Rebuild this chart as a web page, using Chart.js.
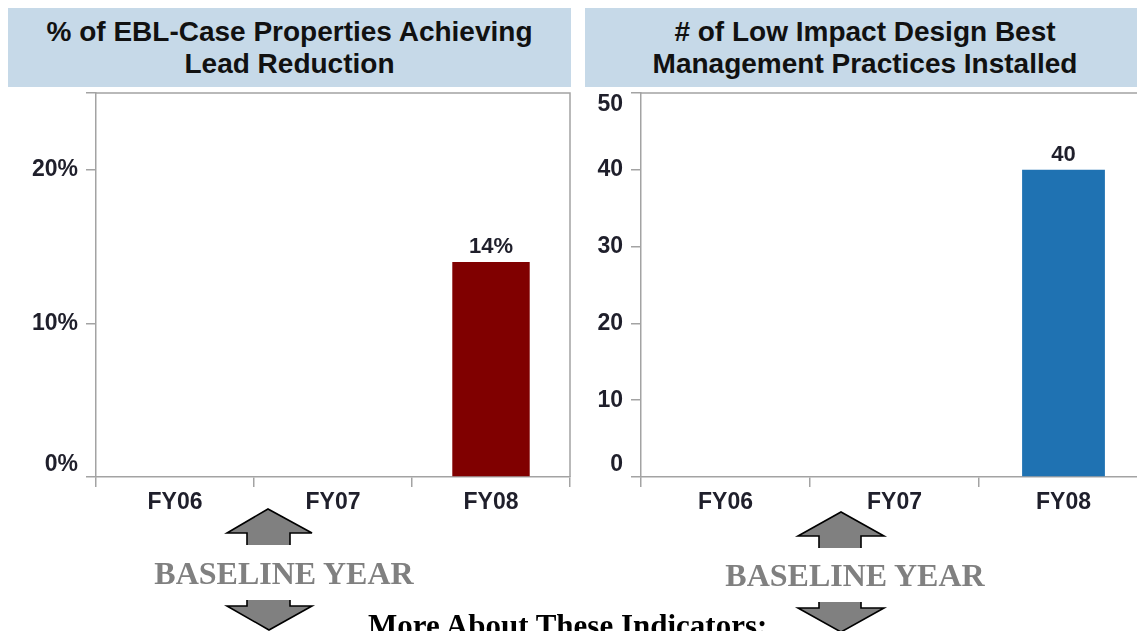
<!DOCTYPE html>
<html>
<head>
<meta charset="utf-8">
<script src="https://cdn.jsdelivr.net/npm/chart.js@4/dist/chart.umd.min.js"></script>
<style>
html,body{margin:0;padding:0;background:#fff;overflow:hidden;width:1137px;height:631px;position:relative}
.tbox{position:absolute;top:8px;height:79px;background:#c6d9e8;display:flex;align-items:center;justify-content:center;text-align:center;font-family:"Liberation Sans",Arial,sans-serif;font-weight:bold;font-size:28px;line-height:32px;color:#111;z-index:2}
.cwrap{position:absolute;top:0;height:631px;z-index:3}
.base{position:absolute;font-family:"Liberation Serif","Times New Roman",serif;font-weight:bold;font-size:32px;line-height:32px;color:#808080;white-space:nowrap;z-index:4}
.more{position:absolute;left:368px;top:610px;font-family:"Liberation Serif","Times New Roman",serif;font-weight:bold;font-size:31px;line-height:31px;color:#000;white-space:nowrap;z-index:4}
svg{position:absolute;left:0;top:0;z-index:4}
</style>
</head>
<body>
<div class="tbox" style="left:8px;width:563px">% of EBL-Case Properties Achieving<br>Lead Reduction</div>
<div class="tbox" style="left:585px;width:560px">#&nbsp;of Low Impact Design Best<br>Management Practices Installed</div>
<div class="cwrap" style="left:0;width:580px"><canvas id="c1"></canvas></div>
<div class="cwrap" style="left:580px;width:578px"><canvas id="c2"></canvas></div>
<svg width="1137" height="631">
  <g fill="#808080" stroke="none">
    <polygon points="247,545 247,533 227,533 268,509 312,533 290,533 290,545"/>
    <polygon points="247,600 247,606 227,606 269,630 312,606 290,606 290,600"/>
    <polygon points="819,548 819,536 798,536 841,512 884,536 861,536 861,548"/>
    <polygon points="819,602 819,608 798,608 841,632 884,608 861,608 861,602"/>
  </g>
  <g fill="none" stroke="#000" stroke-width="1.6" stroke-linejoin="miter">
    <polyline points="247,545 247,533 227,533 268,509 312,533 290,533 290,545"/>
    <polyline points="247,600 247,606 227,606 269,630 312,606 290,606 290,600"/>
    <polyline points="819,548 819,536 798,536 841,512 884,536 861,536 861,548"/>
    <polyline points="819,602 819,608 798,608 841,632 884,608 861,608 861,602"/>
  </g>
</svg>
<div class="base" style="left:284px;top:557px;transform:translateX(-50%)">BASELINE YEAR</div>
<div class="base" style="left:855px;top:559px;transform:translateX(-50%)">BASELINE YEAR</div>
<div class="more">More About These Indicators:</div>
<script>
// ---- data ----
const categories = ['FY06', 'FY07', 'FY08'];
const leadReductionPct = [null, null, 14];
const lidBmpCount = [null, null, 40];
const leadTickValues = [0, 10, 20, 25];
const lidTickValues = [0, 10, 20, 30, 40, 50];
const leadLabelTicks = [0, 10, 20];

const AXIS = '#a3a3a3';
const TXT = '#1f1f2b';
const tickFont = {family: '"Liberation Sans", Arial, sans-serif', size: 23, weight: 'bold'};

const frame = {
  id: 'frame',
  afterDraw(chart) {
    const a = chart.chartArea, ctx = chart.ctx;
    ctx.save();
    ctx.strokeStyle = AXIS;
    ctx.lineWidth = 1.5;
    ctx.beginPath();
    ctx.moveTo(a.left, a.top);
    ctx.lineTo(a.right, a.top);
    ctx.lineTo(a.right, a.bottom);
    ctx.stroke();
    ctx.restore();
  }
};

// keep the end labels of the value axis inside the plot area (as in the original)
const clampLabels = {
  id: 'clampLabels',
  beforeDraw(chart) {
    const s = chart.scales.y;
    const items = s.getLabelItems();
    items.forEach(it => {
      const y = it.options.translation[1];
      if (Math.abs(y - chart.chartArea.bottom) < 1) it.options.translation[1] = y - 12;
      if (Math.abs(y - chart.chartArea.top) < 1) it.options.translation[1] = y + 12;
    });
  }
};

const valueLabels = {
  id: 'valueLabels',
  afterDatasetsDraw(chart, args, opts) {
    const ctx = chart.ctx;
    const meta = chart.getDatasetMeta(0);
    const data = chart.data.datasets[0].data;
    ctx.save();
    ctx.font = 'bold 22px "Liberation Sans", Arial, sans-serif';
    ctx.fillStyle = TXT;
    ctx.textAlign = 'center';
    ctx.textBaseline = 'bottom';
    meta.data.forEach((el, i) => {
      if (data[i] == null) return;
      ctx.fillText(opts.fmt(data[i]), el.x, el.y - 4);
    });
    ctx.restore();
  }
};

function makeChart(id, values, color, ticks, max, yWidth, fmt, labelFn) {
  return new Chart(document.getElementById(id), {
    type: 'bar',
    data: {
      labels: categories,
      datasets: [{data: values, backgroundColor: color, borderWidth: 0,
                  barPercentage: 0.49, categoryPercentage: 1.0}]
    },
    options: {
      responsive: true,
      maintainAspectRatio: false,
      animation: false,
      layout: {padding: {top: 93, right: 10, left: 0, bottom: 0}},
      plugins: {legend: {display: false}, tooltip: {enabled: false},
                valueLabels: {fmt: fmt}},
      scales: {
        x: {
          offset: true,
          grid: {display: true, drawOnChartArea: false, drawTicks: true, tickLength: 10,
                 color: AXIS, lineWidth: 1.5, offset: true},
          border: {display: true, color: AXIS, width: 1.5},
          ticks: {font: tickFont, color: TXT, padding: 2, maxRotation: 0},
          afterFit(s) { s.height = 631 - 477; }
        },
        y: {
          min: 0, max: max,
          grid: {display: true, drawOnChartArea: false, drawTicks: true, tickLength: 10,
                 color: AXIS, lineWidth: 1.5},
          border: {display: true, color: AXIS, width: 1.5},
          afterBuildTicks(s) { s.ticks = ticks.map(v => ({value: v})); },
          ticks: {font: tickFont, color: TXT, padding: 8, callback: labelFn},
          afterFit(s) { s.width = yWidth; }
        }
      }
    },
    plugins: [frame, clampLabels, valueLabels]
  });
}

makeChart('c1', leadReductionPct, '#800000', leadTickValues, 25, 96,
  v => v + '%', v => leadLabelTicks.includes(v) ? v + '%' : '');
makeChart('c2', lidBmpCount, '#1f72b2', lidTickValues, 50, 61,
  v => String(v), v => String(v));
</script>
</body>
</html>
